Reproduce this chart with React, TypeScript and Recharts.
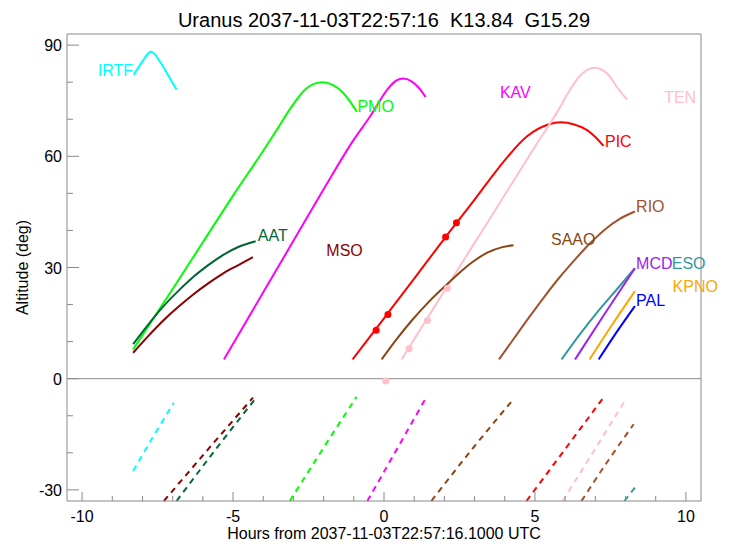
import React from 'react';
import { ComposedChart, Line, Scatter, XAxis, YAxis, ReferenceLine } from 'recharts';

// tick values
const hourTicks = [-10, -9, -8, -7, -6, -5, -4, -3, -2, -1, 0, 1, 2, 3, 4, 5, 6, 7, 8, 9, 10];
const hourLabels = [-10, -5, 0, 5, 10];
const altTicks = [-30, -20, -10, 0, 10, 20, 30, 40, 50, 60, 70, 80, 90];
const altLabels = [-30, 0, 30, 60, 90];

// altitude tracks [hours, deg], solid = above horizon, dashed = below
const irtfUp = [[-8.29, 82.0], [-8.0, 85.6], [-7.85, 87.4], [-7.74, 88.2], [-7.6, 87.6], [-7.4, 85.3], [-7.1, 81.2], [-6.87, 78.0]];
const irtfDown = [[-8.31, -24.9], [-7.6, -15.0], [-6.96, -6.5]];
const pmoUp = [[-8.31, 7.9], [-7.0, 24.2], [-6.0, 36.8], [-5.0, 49.4], [-4.0, 61.5], [-3.5, 67.8], [-3.06, 73.4], [-2.6, 78.1], [-2.3, 79.6], [-2.04, 80.0], [-1.7, 79.3], [-1.4, 77.5], [-1.15, 75.1], [-0.9, 72.0]];
const pmoDown = [[-3.12, -33], [-2.0, -18.6], [-0.91, -4.9]];
const aatUp = [[-8.31, 9.3], [-7.81, 14.6], [-7.31, 19.5], [-6.81, 23.7], [-6.31, 27.5], [-5.81, 30.7], [-5.31, 33.5], [-4.81, 35.6], [-4.25, 37.1]];
const aatDown = [[-6.87, -33], [-5.55, -18.8], [-4.25, -5.3]];
const msoUp = [[-8.31, 7.0], [-7.81, 11.5], [-7.31, 15.7], [-6.81, 19.4], [-6.31, 22.8], [-5.81, 25.8], [-5.31, 28.5], [-4.81, 30.7], [-4.34, 32.8]];
const msoDown = [[-7.29, -33], [-5.8, -18.8], [-4.34, -5.1]];
const kavUp = [[-5.3, 5.2], [-4.0, 23.3], [-3.0, 37.2], [-2.0, 51.1], [-1.0, 64.5], [-0.44, 71.0], [0.11, 78.0], [0.4, 80.4], [0.64, 81.0], [0.9, 80.3], [1.15, 78.5], [1.38, 76.0]];
const kavDown = [[-0.55, -33], [0.4, -19.4], [1.36, -5.6]];
const picUp = [[-1.04, 5.2], [0.0, 16.3], [1.0, 27.0], [2.0, 37.8], [3.0, 48.3], [3.76, 56.5], [4.75, 65.5], [5.44, 68.6], [5.86, 69.2], [6.3, 68.6], [6.74, 67.0], [7.0, 65.2], [7.27, 62.8]];
const picDown = [[4.72, -33], [6.0, -19.0], [7.27, -5.1]];
const picDots = [[-0.26, 13.1], [0.13, 17.3], [2.04, 38.2], [2.4, 42.1]];
const tenUp = [[0.58, 5.2], [2.0, 23.7], [3.5, 43.1], [5.0, 62.6], [5.8, 72.8], [6.2, 78.5], [6.55, 82.2], [6.96, 83.9], [7.4, 82.3], [7.75, 78.3], [8.05, 75.3]];
const tenDown = [[5.92, -33], [6.95, -19.5], [7.96, -6.2]];
const tenDots = [[0.06, -0.6], [0.83, 8.1], [1.44, 15.7], [2.1, 24.4]];
const saaoUp = [[-0.08, 5.2], [0.42, 10.7], [0.92, 15.7], [1.42, 20.2], [1.92, 24.2], [2.42, 28.0], [2.92, 31.4], [3.42, 34.0], [3.92, 35.5], [4.29, 36.0]];
const saaoDown = [[1.57, -33], [2.9, -19.2], [4.26, -5.8]];
const rioUp = [[3.81, 5.2], [4.31, 10.9], [4.81, 16.6], [5.31, 22.1], [5.81, 27.3], [6.31, 32.0], [6.81, 36.4], [7.31, 40.2], [7.81, 43.1], [8.31, 45.1]];
const rioDown = [[6.54, -33], [7.4, -22.4], [8.27, -12.3]];
const esoUp = [[5.88, 5.2], [6.48, 11.9], [7.08, 18.1], [7.68, 23.8], [8.31, 29.8]];
const esoDown = [[7.96, -33], [8.31, -29.4]];
const mcdUp = [[6.33, 5.2], [7.3, 17.4], [8.31, 29.8]];
const kpnoUp = [[6.81, 5.2], [7.55, 14.5], [8.31, 23.6]];
const palUp = [[7.11, 5.2], [7.7, 12.5], [8.31, 19.6]];

const obsNames = ['IRTF', 'PMO', 'AAT', 'MSO', 'KAV', 'PIC', 'TEN', 'SAAO', 'RIO', 'ESO', 'MCD', 'KPNO', 'PAL'];
const obsColors = ['#00FFFF', '#00FF00', '#006633', '#8B0000', '#FF00FF', '#FF0000', '#FFC0CB', '#8B4513', '#A0522D', '#339999', '#A020F0', '#FFA500', '#0000FF'];
const obsUp = [irtfUp, pmoUp, aatUp, msoUp, kavUp, picUp, tenUp, saaoUp, rioUp, esoUp, mcdUp, kpnoUp, palUp];
const obsDown = [irtfDown, pmoDown, aatDown, msoDown, kavDown, picDown, tenDown, saaoDown, rioDown, esoDown, [], [], []];
// where each name sits (left edge, vertical middle)
const labelX = [-9.48, -0.88, -4.18, -1.91, 3.84, 7.32, 9.28, 5.53, 8.35, 9.53, 8.35, 9.56, 8.35];
const labelY = [83.3, 73.7, 38.8, 34.6, 77.4, 64.2, 75.9, 37.7, 46.7, 31.3, 31.3, 25.1, 21.3];

const toPts = (arr: number[][]) => arr.map(([x, y]) => ({ x, y }));

const GRAY = '#8a8a8a';
const FONT = '"Liberation Sans", Arial, Helvetica, sans-serif';

const BottomTick = (props: any) => {
  const { x, y, payload } = props;
  const major = hourLabels.includes(payload.value);
  return (
    <g>
      <line x1={x} x2={x} y1={y} y2={y - (major ? 9 : 5)} stroke={GRAY} />
      {major && (
        <text x={x} y={y + 21} textAnchor="middle" fontSize={16} fill="#000">
          {payload.value}
        </text>
      )}
    </g>
  );
};

const TopTick = (props: any) => {
  const { x, y, payload } = props;
  const major = hourLabels.includes(payload.value);
  return <line x1={x} x2={x} y1={y} y2={y + (major ? 9 : 5)} stroke={GRAY} />;
};

const LeftTick = (props: any) => {
  const { x, y, payload } = props;
  const major = altLabels.includes(payload.value);
  return (
    <g>
      <line x1={x} x2={x + (major ? 12 : 6)} y1={y} y2={y} stroke={GRAY} />
      {major && (
        <text x={x - 5} y={y + 6} textAnchor="end" fontSize={16} fill="#000">
          {payload.value}
        </text>
      )}
    </g>
  );
};

const RightTick = (props: any) => {
  const { x, y, payload } = props;
  const major = altLabels.includes(payload.value);
  return <line x1={x} x2={x - (major ? 12 : 6)} y1={y} y2={y} stroke={GRAY} />;
};

const NameLabel = (props: any) => {
  const { cx, cy, payload } = props;
  return (
    <text x={cx} y={cy + 6} fontSize={16} fill={payload.color} textAnchor="start">
      {payload.name}
    </text>
  );
};

const App: React.FC = () => {
  const labelData = obsNames.map((name, i) => ({ x: labelX[i], y: labelY[i], name, color: obsColors[i] }));

  return (
    <div style={{ position: 'absolute', left: 0, top: 0, width: 731, height: 544, background: '#fff', fontFamily: FONT }}>
      <ComposedChart width={731} height={544} margin={{ top: 0, right: 0, bottom: 0, left: 0 }}>
        <XAxis
          xAxisId={0}
          dataKey="x"
          type="number"
          domain={[-10.5, 10.5]}
          ticks={hourTicks}
          interval={0}
          height={43}
          tickSize={0}
          tickMargin={0}
          tickLine={false}
          axisLine={{ stroke: GRAY }}
          tick={<BottomTick />}
          label={{
            content: () => (
              <text x={384} y={539} textAnchor="middle" fontSize={16} fill="#000">
                Hours from 2037-11-03T22:57:16.1000 UTC
              </text>
            ),
          }}
        />
        <XAxis
          xAxisId="top"
          orientation="top"
          type="number"
          domain={[-10.5, 10.5]}
          ticks={hourTicks}
          interval={0}
          height={34}
          tickSize={0}
          tickMargin={0}
          tickLine={false}
          axisLine={{ stroke: GRAY }}
          tick={<TopTick />}
          label={{
            content: () => (
              <text x={384} y={27} textAnchor="middle" fontSize={20} fill="#000" style={{ whiteSpace: 'pre' }}>
                {'Uranus 2037-11-03T22:57:16  K13.84  G15.29'}
              </text>
            ),
          }}
        />
        <YAxis
          yAxisId={0}
          dataKey="y"
          type="number"
          domain={[-33, 93]}
          ticks={altTicks}
          interval={0}
          width={67}
          tickSize={0}
          tickMargin={0}
          tickLine={false}
          axisLine={{ stroke: GRAY }}
          tick={<LeftTick />}
          label={{
            content: () => (
              <text transform="translate(27.5,267.5) rotate(-90)" textAnchor="middle" fontSize={16} fill="#000">
                Altitude (deg)
              </text>
            ),
          }}
        />
        <YAxis
          yAxisId="right"
          orientation="right"
          type="number"
          domain={[-33, 93]}
          ticks={altTicks}
          interval={0}
          width={30}
          tickSize={0}
          tickMargin={0}
          tickLine={false}
          axisLine={{ stroke: GRAY }}
          tick={<RightTick />}
        />

        <ReferenceLine y={0} stroke={GRAY} strokeWidth={1} />

        {obsNames.map((name, i) => (
          <Line
            key={name + '-down'}
            data={toPts(obsDown[i])}
            dataKey="y"
            type="monotone"
            stroke={obsColors[i]}
            strokeWidth={2}
            strokeDasharray="6 5"
            dot={false}
            activeDot={false}
            isAnimationActive={false}
          />
        ))}
        {obsNames.map((name, i) => (
          <Line
            key={name + '-up'}
            data={toPts(obsUp[i])}
            dataKey="y"
            type="monotone"
            stroke={obsColors[i]}
            strokeWidth={2}
            dot={false}
            activeDot={false}
            isAnimationActive={false}
          />
        ))}

        <Scatter
          data={toPts(tenDots)}
          fill="#FFC0CB"
          shape={(p: any) => <circle cx={p.cx} cy={p.cy} r={3.5} fill="#FFC0CB" />}
          isAnimationActive={false}
        />
        <Scatter
          data={toPts(picDots)}
          fill="#FF0000"
          shape={(p: any) => <circle cx={p.cx} cy={p.cy} r={3.5} fill="#FF0000" />}
          isAnimationActive={false}
        />
        <Scatter data={labelData} shape={<NameLabel />} isAnimationActive={false} />
      </ComposedChart>
    </div>
  );
};

export default App;
